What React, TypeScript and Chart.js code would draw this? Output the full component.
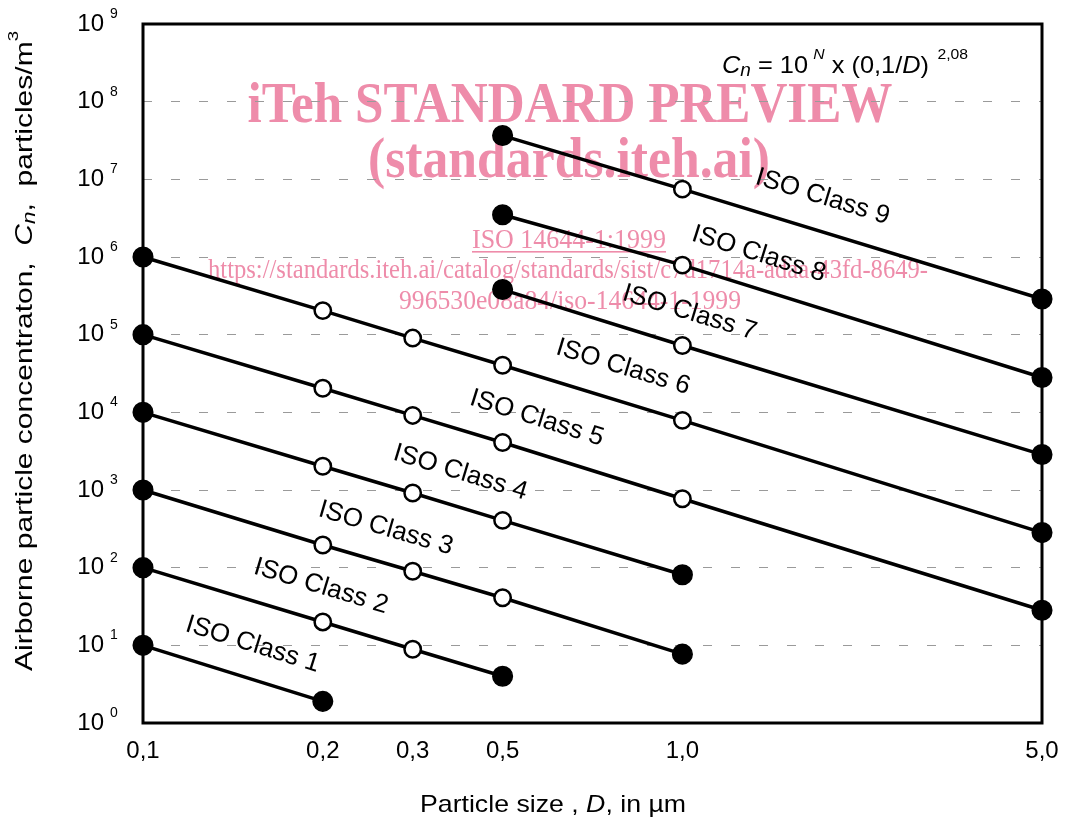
import React, { useEffect, useRef } from "react";
import { Chart, registerables } from "chart.js";

Chart.register(...registerables);

const FONT = '"Liberation Sans", Arial, Helvetica, sans-serif';
const SERIF = '"Liberation Serif", "Times New Roman", serif';
const PINK = "rgb(238,140,170)";

// x axis slots (the original drawing spaces the sizes on a fixed grid)
const slotLabels = ["0,1", "", "0,2", "0,3", "0,5", "", "1,0", "", "", "", "5,0"];
// particle sizes, D (µm)
const sizes = ["0,1", "0,2", "0,3", "0,5", "1,0", "5,0"];

const classNames = [
  "ISO Class 1", "ISO Class 2", "ISO Class 3", "ISO Class 4", "ISO Class 5",
  "ISO Class 6", "ISO Class 7", "ISO Class 8", "ISO Class 9",
];

// concentrations (particles/m³) at each size
const class1 = [10, 1.9, null, null, null, null];
const class2 = [100, 20, 8.9, 4, null, null];
const class3 = [1000, 196, 90, 41, 7.7, null];
const class4 = [10000, 2020, 914, 406, 81, null];
const class5 = [100000, 20400, 9120, 4090, 771, 28.3];
const class6 = [1000000, 204000, 90400, 40400, 7890, 283];
const class7 = [null, null, null, 381000, 72500, 2860];
const class8 = [null, null, null, 3500000, 785000, 28100];
const class9 = [null, null, null, 36600000, 7470000, 288000];

const yTickValues = [1, 10, 100, 1000, 10000, 100000, 1000000, 10000000, 100000000, 1000000000];
const yTickExponents = ["0", "1", "2", "3", "4", "5", "6", "7", "8", "9"];

// where along the x axis (slot units) each class label sits
const labelSlots = [1.22, 1.98, 2.7, 3.53, 4.38, 5.34, 6.08, 6.85, 7.56];

type Part = { t: string; i?: boolean; sup?: boolean; sub?: boolean; dx?: number };

function partFont(p: Part, size: number, family: string) {
  const fs = p.sup ? size * 0.62 : p.sub ? size * 0.75 : size;
  return `${p.i ? "italic " : ""}${fs}px ${family}`;
}

function measureParts(ctx: CanvasRenderingContext2D, parts: Part[], size: number, family: string) {
  let w = 0;
  for (const p of parts) {
    ctx.font = partFont(p, size, family);
    w += (p.dx || 0) + ctx.measureText(p.t).width;
  }
  return w;
}

function drawParts(
  ctx: CanvasRenderingContext2D,
  parts: Part[],
  x: number,
  y: number,
  size: number,
  family: string,
  targetW?: number
) {
  const natural = measureParts(ctx, parts, size, family);
  const sx = targetW ? targetW / natural : 1;
  ctx.save();
  ctx.translate(x, y);
  ctx.scale(sx, 1);
  ctx.textAlign = "left";
  ctx.textBaseline = "alphabetic";
  let cx = 0;
  for (const p of parts) {
    cx += p.dx || 0;
    ctx.font = partFont(p, size, family);
    const dy = p.sup ? -size * 0.6 : p.sub ? size * 0.14 : 0;
    ctx.fillText(p.t, cx, dy);
    cx += ctx.measureText(p.t).width;
  }
  ctx.restore();
}

function drawFitted(
  ctx: CanvasRenderingContext2D,
  text: string,
  font: string,
  cx: number,
  baseline: number,
  w: number
) {
  ctx.font = font;
  const natural = ctx.measureText(text).width;
  ctx.save();
  ctx.translate(cx, baseline);
  ctx.scale(w / natural, 1);
  ctx.textAlign = "center";
  ctx.textBaseline = "alphabetic";
  ctx.fillText(text, 0, 0);
  ctx.restore();
}

const decor = {
  id: "decor",
  beforeDraw(chart: any) {
    const ctx: CanvasRenderingContext2D = chart.ctx;
    ctx.save();
    ctx.fillStyle = PINK;
    drawFitted(ctx, "iTeh STANDARD PREVIEW", `bold 58px ${SERIF}`, 570, 122, 645);
    drawFitted(ctx, "(standards.iteh.ai)", `bold 58px ${SERIF}`, 569, 177, 402);
    drawFitted(ctx, "ISO 14644-1:1999", `27px ${SERIF}`, 569, 248, 194);
    ctx.fillRect(472, 251, 194, 1.6);
    drawFitted(
      ctx,
      "https://standards.iteh.ai/catalog/standards/sist/c7d1714a-adaa-43fd-8649-",
      `27px ${SERIF}`,
      568,
      278,
      720
    );
    drawFitted(ctx, "996530e08a84/iso-14644-1-1999", `27px ${SERIF}`, 570, 309, 342);
    ctx.restore();
  },
  beforeDatasetsDraw(chart: any) {
    const ctx: CanvasRenderingContext2D = chart.ctx;
    const a = chart.chartArea;
    ctx.save();
    ctx.strokeStyle = "#000";
    ctx.lineWidth = 3;
    ctx.strokeRect(a.left, a.top, a.right - a.left, a.bottom - a.top);
    ctx.restore();
  },
  afterDatasetsDraw(chart: any) {
    const ctx: CanvasRenderingContext2D = chart.ctx;
    const xs = chart.scales.x;
    const ys = chart.scales.y;
    ctx.save();
    ctx.fillStyle = "#000";
    // class labels along each line
    chart.data.datasets.forEach((_ds: any, k: number) => {
      const pts = chart.getDatasetMeta(k).data;
      const ax = xs.getPixelForValue(labelSlots[k]);
      let j = 0;
      while (j < pts.length - 2 && pts[j + 1].x < ax) j++;
      const p0 = pts[j];
      const p1 = pts[j + 1];
      const t = (ax - p0.x) / (p1.x - p0.x);
      const ly = p0.y + t * (p1.y - p0.y);
      const ang = Math.atan2(p1.y - p0.y, p1.x - p0.x);
      ctx.save();
      ctx.translate(ax, ly - 35);
      ctx.rotate(ang);
      ctx.font = `26px ${FONT}`;
      ctx.textAlign = "center";
      ctx.textBaseline = "middle";
      ctx.fillText(classNames[k], 0, 0);
      ctx.restore();
    });
    // y tick labels 10^n
    yTickValues.forEach((v, i) => {
      const y = ys.getPixelForValue(v);
      ctx.font = `24px ${FONT}`;
      ctx.textAlign = "right";
      ctx.textBaseline = "middle";
      ctx.fillText("10", 104, y);
      ctx.font = `14px ${FONT}`;
      ctx.textAlign = "left";
      ctx.textBaseline = "alphabetic";
      ctx.fillText(yTickExponents[i], 110, y - 6);
    });
    // formula
    drawParts(
      ctx,
      [
        { t: "C", i: true },
        { t: "n", i: true, sub: true },
        { t: " = 10" },
        { t: "N", i: true, sup: true, dx: 5 },
        { t: " x (0,1/" },
        { t: "D", i: true },
        { t: ")" },
        { t: "2,08", sup: true, dx: 8 },
      ],
      722,
      73,
      24,
      FONT,
      246
    );
    // x title
    drawParts(
      ctx,
      [{ t: "Particle size , " }, { t: "D", i: true }, { t: ", in µm" }],
      420,
      812,
      24,
      FONT,
      266
    );
    // y title
    ctx.save();
    ctx.translate(32, 351);
    ctx.rotate(-Math.PI / 2);
    drawParts(
      ctx,
      [
        { t: "Airborne particle concentraton,  " },
        { t: "C", i: true },
        { t: "n", i: true, sub: true },
        { t: ",  particles/m" },
        { t: "3", sup: true },
      ],
      -320,
      0,
      24,
      FONT,
      640
    );
    ctx.restore();
    ctx.restore();
  },
};

export default function App() {
  const ref = useRef<HTMLCanvasElement>(null);

  useEffect(() => {
    const canvas = ref.current;
    if (!canvas) return;
    const series = [class1, class2, class3, class4, class5, class6, class7, class8, class9];
    const datasets = series.map((vals, k) => {
      const pts = sizes
        .map((s, i) => ({ x: s, y: vals[i] }))
        .filter((p) => p.y !== null) as { x: string; y: number }[];
      const n = pts.length;
      const isEnd = (i: number) => i === 0 || i === n - 1;
      return {
        label: classNames[k],
        data: pts,
        borderColor: "#000",
        borderWidth: 3.5,
        pointBackgroundColor: pts.map((_, i) => (isEnd(i) ? "#000" : "#fff")),
        pointBorderColor: "#000",
        pointBorderWidth: pts.map((_, i) => (isEnd(i) ? 1.5 : 2.5)),
        pointRadius: pts.map((_, i) => (isEnd(i) ? 9.8 : 8.2)),
        pointHoverRadius: pts.map((_, i) => (isEnd(i) ? 9.8 : 8.2)),
        tension: 0,
        clip: false as any,
      };
    });

    const chart = new Chart(canvas, {
      type: "line",
      data: { labels: slotLabels, datasets: datasets as any },
      options: {
        responsive: false,
        animation: false,
        devicePixelRatio: 1,
        events: [],
        layout: { padding: { top: 24, right: 23, left: 0, bottom: 0 } },
        plugins: { legend: { display: false }, tooltip: { enabled: false } },
        scales: {
          x: {
            type: "category",
            offset: false,
            grid: { display: false, drawTicks: false },
            border: { display: false },
            ticks: {
              color: "#000",
              font: { size: 24, family: FONT },
              padding: 14,
              autoSkip: false,
              maxRotation: 0,
              minRotation: 0,
            },
            afterFit: (s: any) => {
              s.height = 100;
              s.paddingLeft = 0;
              s.paddingRight = 0;
            },
          },
          y: {
            type: "logarithmic",
            min: 1,
            max: 1000000000,
            afterBuildTicks: (s: any) => {
              s.ticks = yTickValues.map((v) => ({ value: v }));
            },
            afterFit: (s: any) => {
              s.width = 143;
              s.paddingTop = 0;
              s.paddingBottom = 0;
            },
            ticks: { display: false },
            grid: {
              drawTicks: false,
              lineWidth: 1,
              color: (c: any) =>
                c.tick && (c.tick.value === 1 || c.tick.value === 1000000000)
                  ? "rgba(0,0,0,0)"
                  : "#9a9a9a",
            },
            border: { display: false, dash: [9, 19] },
          },
        },
      },
      plugins: [decor as any],
    });
    return () => chart.destroy();
  }, []);

  return (
    <div style={{ position: "absolute", left: 0, top: 0, width: 1065, height: 823, background: "#fff" }}>
      <canvas ref={ref} width={1065} height={823} style={{ display: "block" }} />
    </div>
  );
}
